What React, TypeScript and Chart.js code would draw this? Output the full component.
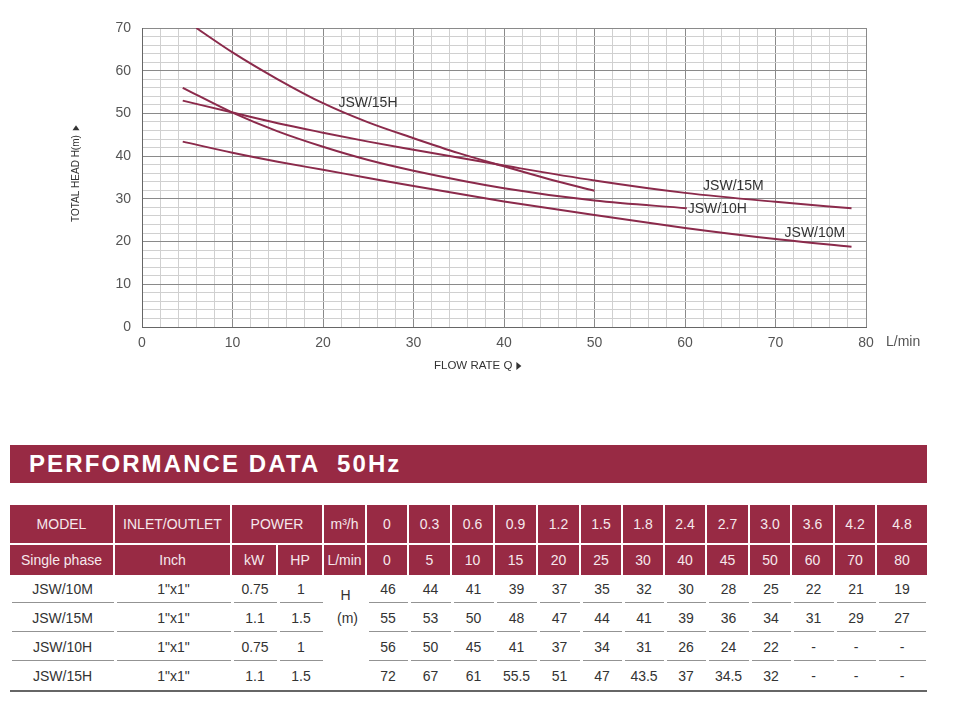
import React, { useEffect, useRef } from "react";
import { Chart, registerables } from "chart.js";

Chart.register(...registerables);

const FONT = '"Liberation Sans", Arial, Helvetica, sans-serif';
const RED = "#982a44";
const CURVE = "#8b2a4b";

// ---- curves (flow L/min, head m) ----
const flow15H = [6, 10, 15, 20, 25, 30, 35, 40, 45, 50];
const head15H = [70, 64.3, 58.0, 52.4, 47.9, 44.2, 40.7, 37.6, 34.6, 31.9];
const flow15M = [4.5, 10, 15, 20, 25, 30, 40, 50, 60, 70, 78.4];
const head15M = [53, 50.2, 47.7, 45.5, 43.4, 41.5, 37.8, 34.3, 31.4, 29.3, 27.8];
const flow10H = [4.5, 10, 15, 20, 25, 30, 40, 50, 60.2];
const head10H = [56, 50.2, 45.8, 42.2, 39.1, 36.6, 32.5, 29.6, 27.8];
const flow10M = [4.5, 10, 15, 20, 25, 30, 40, 50, 60, 70, 78.4];
const head10M = [43.4, 40.8, 38.7, 36.8, 34.9, 33.0, 29.4, 26.2, 23.2, 20.6, 18.8];

// curve name labels (anchored in data units)
const curveLabels = ["JSW/15H", "JSW/15M", "JSW/10H", "JSW/10M"];
const labelFlow = [21.7, 62.0, 60.3, 71.0];
const labelHead = [52.4, 33.0, 27.6, 22.0];

// ---- table ----
const rateM3h = ["0", "0.3", "0.6", "0.9", "1.2", "1.5", "1.8", "2.4", "2.7", "3.0", "3.6", "4.2", "4.8"];
const rateLmin = ["0", "5", "10", "15", "20", "25", "30", "40", "45", "50", "60", "70", "80"];
const models = ["JSW/10M", "JSW/15M", "JSW/10H", "JSW/15H"];
const inlets = ['1"x1"', '1"x1"', '1"x1"', '1"x1"'];
const powerKw = ["0.75", "1.1", "0.75", "1.1"];
const powerHp = ["1", "1.5", "1", "1.5"];
const tableHead10M = ["46", "44", "41", "39", "37", "35", "32", "30", "28", "25", "22", "21", "19"];
const tableHead15M = ["55", "53", "50", "48", "47", "44", "41", "39", "36", "34", "31", "29", "27"];
const tableHead10H = ["56", "50", "45", "41", "37", "34", "31", "26", "24", "22", "-", "-", "-"];
const tableHead15H = ["72", "67", "61", "55.5", "51", "47", "43.5", "37", "34.5", "32", "-", "-", "-"];
const tableHeads = [tableHead10M, tableHead15M, tableHead10H, tableHead15H];

const colWidths = [105, 117, 46, 46, 43, 42, 43, 43, 43, 43, 42, 42, 42, 43, 42, 43, 42, 50];
const rowHeights = [40, 30, 28, 29, 29, 29, 2];

const annotate = {
  id: "annotate",
  afterDatasetsDraw(chart: any) {
    const { ctx } = chart;
    const x = chart.scales.x;
    const y = chart.scales.y;
    ctx.save();
    ctx.font = `14px ${FONT}`;
    ctx.fillStyle = "#333";
    ctx.textBaseline = "middle";
    ctx.textAlign = "left";
    curveLabels.forEach((t, i) => {
      ctx.fillText(t, x.getPixelForValue(labelFlow[i]), y.getPixelForValue(labelHead[i]));
    });
    // unit
    ctx.fillStyle = "#555";
    ctx.fillText("L/min", x.right + 20, y.bottom + 15);
    // x title
    ctx.font = `11.5px ${FONT}`;
    ctx.fillStyle = "#333";
    const xt = "FLOW RATE Q";
    const xl = 434;
    const xy = 366;
    ctx.fillText(xt, xl, xy);
    const xw = ctx.measureText(xt).width;
    ctx.beginPath();
    ctx.moveTo(xl + xw + 4, xy - 4);
    ctx.lineTo(xl + xw + 9, xy);
    ctx.lineTo(xl + xw + 4, xy + 4);
    ctx.closePath();
    ctx.fill();
    // y title
    ctx.translate(76, 222);
    ctx.rotate(-Math.PI / 2);
    ctx.font = `10px ${FONT}`;
    const yt = "TOTAL HEAD H(m)";
    ctx.fillText(yt, 0, 0);
    const yw = ctx.measureText(yt).width;
    ctx.beginPath();
    ctx.moveTo(yw + 5, -3.5);
    ctx.lineTo(yw + 10, 0);
    ctx.lineTo(yw + 5, 3.5);
    ctx.closePath();
    ctx.fill();
    ctx.restore();
  },
};

function ChartView() {
  const ref = useRef<HTMLCanvasElement | null>(null);
  useEffect(() => {
    if (!ref.current) return;
    const mk = (fx: number[], hy: number[], label: string) => ({
      label,
      data: fx.map((v, i) => ({ x: v, y: hy[i] })),
      borderColor: CURVE,
      borderWidth: 2,
      pointRadius: 0,
      fill: false,
      cubicInterpolationMode: "monotone" as const,
    });
    const gridColor = (c: any) => (c.tick && c.tick.value % 10 === 0 ? "#8a8a8a" : "#d0d0d0");
    const tickCb = (v: any) => (Number(v) % 10 === 0 ? String(v) : "");
    const chart = new Chart(ref.current, {
      type: "line",
      data: {
        datasets: [
          mk(flow15H, head15H, "JSW/15H"),
          mk(flow15M, head15M, "JSW/15M"),
          mk(flow10H, head10H, "JSW/10H"),
          mk(flow10M, head10M, "JSW/10M"),
        ],
      },
      options: {
        animation: false,
        responsive: false,
        devicePixelRatio: 1,
        layout: { padding: { top: 28, right: 87, bottom: 23, left: 0 } },
        plugins: { legend: { display: false }, tooltip: { enabled: false } },
        scales: {
          x: {
            type: "linear",
            min: 0,
            max: 80,
            afterFit: (a: any) => {
              a.height = 40;
            },
            ticks: {
              stepSize: 2,
              autoSkip: false,
              maxTicksLimit: 100,
              maxRotation: 0,
              callback: tickCb,
              font: { family: FONT, size: 14 },
              color: "#555",
              padding: 8,
            },
            grid: { color: gridColor, drawTicks: false, lineWidth: 1 },
            border: { color: "#666", width: 1 },
          },
          y: {
            type: "linear",
            min: 0,
            max: 70,
            afterFit: (a: any) => {
              a.width = 142;
            },
            ticks: {
              stepSize: 2,
              autoSkip: false,
              maxTicksLimit: 100,
              callback: tickCb,
              font: { family: FONT, size: 14 },
              color: "#555",
              padding: 11,
            },
            grid: { color: gridColor, drawTicks: false, lineWidth: 1 },
            border: { color: "#666", width: 1 },
          },
        },
      },
      plugins: [annotate],
    } as any);
    return () => chart.destroy();
  }, []);
  return (
    <canvas
      ref={ref}
      width={953}
      height={390}
      style={{ position: "absolute", left: 0, top: 0, width: 953, height: 390, display: "block" }}
    />
  );
}

function Cell(props: {
  col: number;
  row: number;
  colSpan?: number;
  rowSpan?: number;
  head?: boolean;
  line?: boolean;
  last?: boolean;
  children?: React.ReactNode;
  style?: React.CSSProperties;
}) {
  const { col, row, colSpan = 1, rowSpan = 1, head, line, last, children, style } = props;
  const base: React.CSSProperties = {
    gridColumn: `${col} / span ${colSpan}`,
    gridRow: `${row} / span ${rowSpan}`,
    boxSizing: "border-box",
    display: "flex",
    alignItems: "center",
    justifyContent: "center",
    fontSize: 14,
    whiteSpace: "nowrap",
  };
  const h: React.CSSProperties = head
    ? {
        background: RED,
        color: "#f6e8ec",
        borderRight: last ? "none" : "2px solid #fff",
        borderBottom: row === 1 ? "2px solid #fff" : "none",
      }
    : { color: "#333" };
  const l: React.CSSProperties = line
    ? {
        backgroundImage: "linear-gradient(#939393, #939393)",
        backgroundSize: "calc(100% - 3px) 1px",
        backgroundPosition: "center bottom",
        backgroundRepeat: "no-repeat",
      }
    : {};
  return <div style={{ ...base, ...h, ...l, ...style }}>{children}</div>;
}

function PerfTable() {
  const n = rateM3h.length;
  const cells: React.ReactNode[] = [];
  // header row 1
  cells.push(<Cell key="h-model" col={1} row={1} head>MODEL</Cell>);
  cells.push(<Cell key="h-inlet" col={2} row={1} head>INLET/OUTLET</Cell>);
  cells.push(<Cell key="h-power" col={3} row={1} colSpan={2} head>POWER</Cell>);
  cells.push(
    <Cell key="h-m3h" col={5} row={1} head>
      m³/h
    </Cell>
  );
  rateM3h.forEach((r, i) =>
    cells.push(
      <Cell key={"m" + i} col={6 + i} row={1} head last={i === n - 1}>
        {r}
      </Cell>
    )
  );
  // header row 2
  cells.push(<Cell key="h-phase" col={1} row={2} head>Single phase</Cell>);
  cells.push(<Cell key="h-inch" col={2} row={2} head>Inch</Cell>);
  cells.push(<Cell key="h-kw" col={3} row={2} head>kW</Cell>);
  cells.push(<Cell key="h-hp" col={4} row={2} head>HP</Cell>);
  cells.push(<Cell key="h-lmin" col={5} row={2} head>L/min</Cell>);
  rateLmin.forEach((r, i) =>
    cells.push(
      <Cell key={"l" + i} col={6 + i} row={2} head last={i === n - 1}>
        {r}
      </Cell>
    )
  );
  // H (m) merged cell
  cells.push(
    <Cell
      key="hm"
      col={5}
      row={3}
      rowSpan={4}
      style={{ flexDirection: "column", justifyContent: "flex-start", color: "#333" }}
    >
      <div style={{ marginTop: 12, height: 16, lineHeight: "16px" }}>H</div>
      <div style={{ marginTop: 7, height: 16, lineHeight: "16px", paddingLeft: 4 }}>(m)</div>
    </Cell>
  );
  models.forEach((m, r) => {
    const row = 3 + r;
    const line = r < models.length - 1;
    cells.push(<Cell key={"mo" + r} col={1} row={row} line={line}>{m}</Cell>);
    cells.push(<Cell key={"in" + r} col={2} row={row} line={line}>{inlets[r]}</Cell>);
    cells.push(<Cell key={"kw" + r} col={3} row={row} line={line}>{powerKw[r]}</Cell>);
    cells.push(<Cell key={"hp" + r} col={4} row={row} line={line}>{powerHp[r]}</Cell>);
    tableHeads[r].forEach((v, i) =>
      cells.push(
        <Cell key={"v" + r + "-" + i} col={6 + i} row={row} line={line}>
          {v}
        </Cell>
      )
    );
  });
  cells.push(
    <div key="bottom" style={{ gridColumn: `1 / span ${colWidths.length}`, gridRow: "7", background: "#666" }} />
  );
  return (
    <div
      style={{
        position: "absolute",
        left: 10,
        top: 505,
        width: 917,
        display: "grid",
        gridTemplateColumns: colWidths.map((w) => w + "px").join(" "),
        gridTemplateRows: rowHeights.map((h) => h + "px").join(" "),
        fontFamily: FONT,
      }}
    >
      {cells}
    </div>
  );
}

export default function App() {
  return (
    <div
      style={{
        position: "absolute",
        left: 0,
        top: 0,
        width: 953,
        height: 706,
        background: "#fff",
        fontFamily: FONT,
        overflow: "hidden",
      }}
    >
      <ChartView />
      <div
        style={{
          position: "absolute",
          left: 10,
          top: 445,
          width: 917,
          height: 38,
          background: RED,
          color: "#fff",
          fontWeight: "bold",
          fontSize: 24,
          letterSpacing: "2.1px",
          lineHeight: "38px",
          paddingLeft: 19,
          boxSizing: "border-box",
          whiteSpace: "pre",
        }}
      >
        {"PERFORMANCE DATA  50Hz"}
      </div>
      <PerfTable />
    </div>
  );
}
